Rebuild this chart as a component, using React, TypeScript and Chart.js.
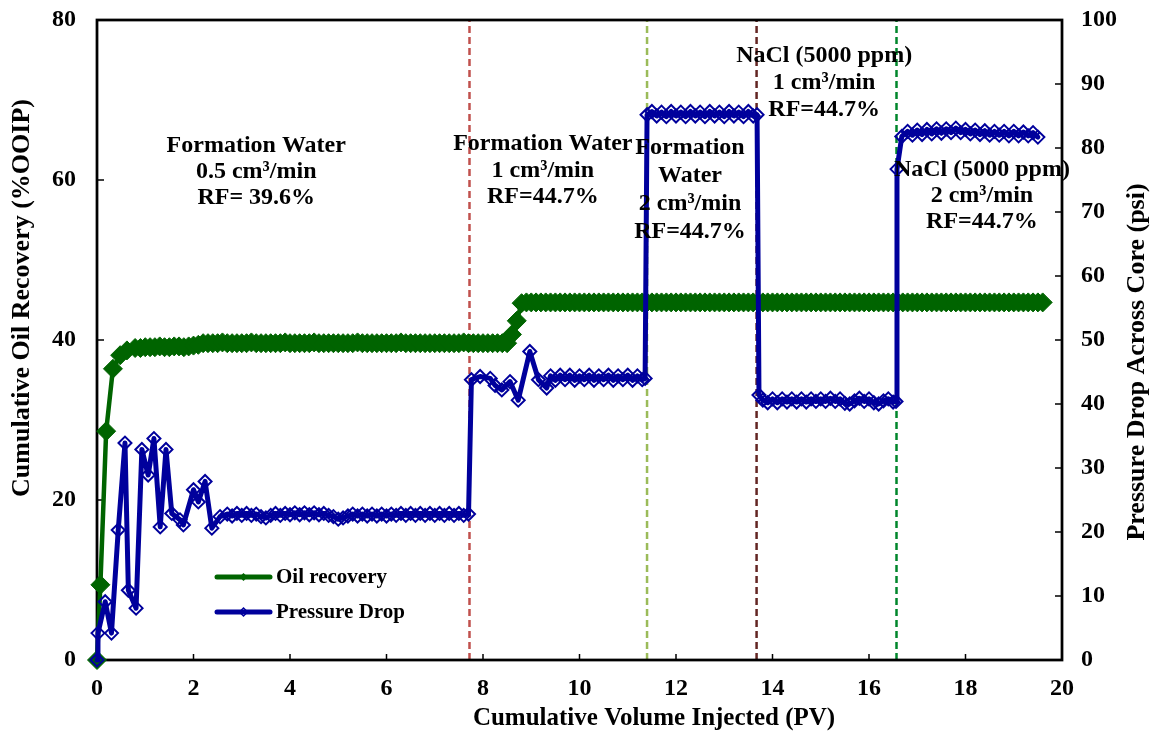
import React, { useEffect, useRef } from 'react';
import { Chart, registerables } from 'chart.js';

Chart.register(...registerables);

const SERIF = "'Liberation Serif', 'Times New Roman', Times, serif";
const GREEN = '#006400';
const BLUE = '#00009C';

// Cumulative oil recovery (%OOIP) against injected pore volumes
const oilPV = [
  0, 0.07, 0.19, 0.33, 0.48, 0.62, 0.79,
  0.9,
  1.0, 1.1, 1.2, 1.3, 1.4, 1.5, 1.6, 1.7, 1.8, 1.9,
  2.0, 2.1, 2.2, 2.3, 2.4, 2.5, 2.6, 2.7, 2.8, 2.9,
  3.0, 3.1, 3.2, 3.3, 3.4, 3.5, 3.6, 3.7, 3.8, 3.9,
  4.0, 4.1, 4.2, 4.3, 4.4, 4.5, 4.6, 4.7, 4.8, 4.9,
  5.0, 5.1, 5.2, 5.3, 5.4, 5.5, 5.6, 5.7, 5.8, 5.9,
  6.0, 6.1, 6.2, 6.3, 6.4, 6.5, 6.6, 6.7, 6.8, 6.9,
  7.0, 7.1, 7.2, 7.3, 7.4, 7.5, 7.6, 7.7, 7.8, 7.9,
  8.0, 8.1, 8.2, 8.3, 8.4, 8.5, 8.6, 8.7, 8.8, 8.9,
  9.0, 9.1, 9.2, 9.3, 9.4, 9.5, 9.6, 9.7, 9.8, 9.9,
  10.0, 10.1, 10.2, 10.3, 10.4, 10.5, 10.6, 10.7, 10.8, 10.9,
  11.0, 11.1, 11.2, 11.3, 11.4, 11.5, 11.6, 11.7, 11.8, 11.9,
  12.0, 12.1, 12.2, 12.3, 12.4, 12.5, 12.6, 12.7, 12.8, 12.9,
  13.0, 13.1, 13.2, 13.3, 13.4, 13.5, 13.6, 13.7, 13.8, 13.9,
  14.0, 14.1, 14.2, 14.3, 14.4, 14.5, 14.6, 14.7, 14.8, 14.9,
  15.0, 15.1, 15.2, 15.3, 15.4, 15.5, 15.6, 15.7, 15.8, 15.9,
  16.0, 16.1, 16.2, 16.3, 16.4, 16.5, 16.6, 16.7, 16.8, 16.9,
  17.0, 17.1, 17.2, 17.3, 17.4, 17.5, 17.6, 17.7, 17.8, 17.9,
  18.0, 18.1, 18.2, 18.3, 18.4, 18.5, 18.6, 18.7, 18.8, 18.9,
  19.0, 19.1, 19.2, 19.3, 19.4, 19.5, 19.6,
];
const oilRecovery = [
  0, 9.4, 28.6, 36.4, 38.1, 38.7, 39.0,
  39.0,
  39.1, 39.1, 39.1, 39.2, 39.1, 39.1, 39.2, 39.2, 39.1, 39.2,
  39.3, 39.4, 39.6, 39.6, 39.6, 39.6, 39.7, 39.6, 39.6, 39.6,
  39.6, 39.6, 39.7, 39.6, 39.6, 39.6, 39.6, 39.6, 39.6, 39.7,
  39.6, 39.6, 39.6, 39.6, 39.6, 39.7, 39.6, 39.6, 39.6, 39.6,
  39.6, 39.6, 39.6, 39.6, 39.7, 39.6, 39.6, 39.6, 39.6, 39.6,
  39.6, 39.6, 39.6, 39.7, 39.6, 39.6, 39.6, 39.6, 39.6, 39.6,
  39.6, 39.6, 39.6, 39.6, 39.6, 39.6, 39.7, 39.6, 39.6, 39.6,
  39.6, 39.6, 39.6, 39.6, 39.6, 39.6, 40.7, 42.4, 44.6, 44.7,
  44.7, 44.7, 44.7, 44.7, 44.7, 44.7, 44.7, 44.7, 44.7, 44.7,
  44.7, 44.7, 44.7, 44.7, 44.7, 44.7, 44.7, 44.7, 44.7, 44.7,
  44.7, 44.7, 44.7, 44.7, 44.7, 44.7, 44.7, 44.7, 44.7, 44.7,
  44.7, 44.7, 44.7, 44.7, 44.7, 44.7, 44.7, 44.7, 44.7, 44.7,
  44.7, 44.7, 44.7, 44.7, 44.7, 44.7, 44.7, 44.7, 44.7, 44.7,
  44.7, 44.7, 44.7, 44.7, 44.7, 44.7, 44.7, 44.7, 44.7, 44.7,
  44.7, 44.7, 44.7, 44.7, 44.7, 44.7, 44.7, 44.7, 44.7, 44.7,
  44.7, 44.7, 44.7, 44.7, 44.7, 44.7, 44.7, 44.7, 44.7, 44.7,
  44.7, 44.7, 44.7, 44.7, 44.7, 44.7, 44.7, 44.7, 44.7, 44.7,
  44.7, 44.7, 44.7, 44.7, 44.7, 44.7, 44.7, 44.7, 44.7, 44.7,
  44.7, 44.7, 44.7, 44.7, 44.7, 44.7, 44.7,
];

// Pressure drop across the core (psi) against injected pore volumes
const dpPV = [
  0, 0.02, 0.17, 0.3, 0.44, 0.58, 0.65, 0.81, 0.93, 1.06,
  1.18, 1.31, 1.43, 1.55, 1.72, 1.79, 2.0, 2.1, 2.24, 2.38, 2.55,
  2.7, 2.8, 2.9,
  3.0, 3.1, 3.2, 3.3, 3.4, 3.5, 3.6, 3.7, 3.8, 3.9,
  4.0, 4.1, 4.2, 4.3, 4.4, 4.5, 4.6, 4.7, 4.8, 4.9,
  5.0, 5.1, 5.2, 5.3, 5.4, 5.5, 5.6, 5.7, 5.8, 5.9,
  6.0, 6.1, 6.2, 6.3, 6.4, 6.5, 6.6, 6.7, 6.8, 6.9,
  7.0, 7.1, 7.2, 7.3, 7.4, 7.5, 7.6, 7.7,
  7.76, 7.94, 8.15, 8.25, 8.39, 8.56, 8.73, 8.97, 9.15, 9.32,
  9.4, 9.5, 9.6, 9.7, 9.8, 9.9,
  10.0, 10.1, 10.2, 10.3, 10.4, 10.5, 10.6, 10.7, 10.8, 10.9,
  11.0, 11.1, 11.2, 11.3, 11.36,
  11.4, 11.5, 11.6, 11.7, 11.8, 11.9,
  12.0, 12.1, 12.2, 12.3, 12.4, 12.5, 12.6, 12.7, 12.8, 12.9,
  13.0, 13.1, 13.2, 13.3, 13.4, 13.5, 13.6, 13.68,
  13.72, 13.8, 13.9,
  14.0, 14.1, 14.2, 14.3, 14.4, 14.5, 14.6, 14.7, 14.8, 14.9,
  15.0, 15.1, 15.2, 15.3, 15.4, 15.5, 15.6, 15.7, 15.8, 15.9,
  16.0, 16.1, 16.2, 16.3, 16.4, 16.5, 16.56,
  16.58, 16.68, 16.8, 16.9,
  17.0, 17.1, 17.2, 17.3, 17.4, 17.5, 17.6, 17.7, 17.8, 17.9,
  18.0, 18.1, 18.2, 18.3, 18.4, 18.5, 18.6, 18.7, 18.8, 18.9,
  19.0, 19.1, 19.2, 19.3, 19.4, 19.5,
];
const pressureDrop = [
  0, 4.2, 9.1, 4.2, 20.3, 33.9, 10.9, 8.1, 32.9, 28.9,
  34.6, 20.8, 32.9, 22.9, 21.9, 21.1, 26.6, 24.7, 27.9, 20.6, 22.4,
  22.8, 22.5, 22.9,
  22.6, 22.9, 22.6, 22.8, 22.4, 22.2, 22.6, 22.9, 22.6, 22.9,
  22.7, 23.0, 22.7, 23.0, 22.7, 23.0, 22.7, 22.9, 22.6, 22.4,
  22.0, 22.2, 22.5, 22.8, 22.5, 22.8, 22.5, 22.8, 22.5, 22.8,
  22.5, 22.8, 22.6, 22.9, 22.6, 22.9, 22.6, 22.9, 22.6, 22.9,
  22.6, 22.9, 22.6, 22.9, 22.6, 22.9, 22.6, 22.8,
  43.8, 44.3, 44.0, 42.9, 42.2, 43.5, 40.6, 48.2, 43.8, 42.5,
  44.4, 43.7, 44.5, 43.8, 44.5, 43.7,
  44.4, 43.8, 44.5, 43.7, 44.4, 43.8, 44.5, 43.7, 44.4, 43.8,
  44.5, 43.7, 44.4, 43.8, 44.0,
  85.2, 85.7, 85.0, 85.6, 84.9, 85.7,
  85.0, 85.6, 84.9, 85.7, 85.0, 85.6, 84.9, 85.7, 85.0, 85.6,
  84.9, 85.7, 85.0, 85.6, 84.9, 85.7, 85.0, 85.2,
  41.4, 40.6, 40.2,
  40.8, 40.2, 40.8, 40.3, 40.8, 40.3, 40.8, 40.3, 40.8, 40.4,
  40.8, 40.4, 40.9, 40.4, 40.8, 40.1, 40.0, 40.5, 40.9, 40.4,
  40.8, 40.2, 40.0, 40.5, 40.8, 40.3, 40.4,
  76.7, 81.8, 82.6, 82.0,
  82.8, 82.1, 82.9, 82.2, 83.0, 82.3, 83.0, 82.4, 83.1, 82.4,
  82.9, 82.2, 82.8, 82.1, 82.7, 82.0, 82.6, 82.0, 82.6, 81.9,
  82.6, 81.9, 82.5, 81.9, 82.4, 81.7,
];

// Injection stage changes (PV) and the dashed marker colour for each
const stageBoundaries = [7.72, 11.4, 13.67, 16.57];
const stageColors = ['#C0504D', '#9BBB59', '#632523', '#00862B'];

// Stage descriptions: anchor in data units (PV, %OOIP), line gap in px
const stageNotes = [
  { pv: 3.3, rec: 64.25, gap: 26, lines: ['Formation Water', '0.5 cm³/min', 'RF= 39.6%'] },
  { pv: 9.24, rec: 64.5, gap: 26.5, lines: ['Formation Water', '1 cm³/min', 'RF=44.7%'] },
  { pv: 12.29, rec: 64.0, gap: 28, lines: ['Formation', 'Water', '2 cm³/min', 'RF=44.7%'] },
  { pv: 15.07, rec: 75.5, gap: 27, lines: ['NaCl (5000 ppm)', '1 cm³/min', 'RF=44.7%'] },
  { pv: 18.34, rec: 61.25, gap: 26, lines: ['NaCl (5000 ppm)', '2 cm³/min', 'RF=44.7%'] },
];

const xTitle = 'Cumulative Volume Injected (PV)';
const yTitle = 'Cumulative Oil Recovery (%OOIP)';
const y2Title = 'Pressure Drop Across Core (psi)';

const xTickValues = [0, 2, 4, 6, 8, 10, 12, 14, 16, 18, 20];
const recoveryTicks = [0, 20, 40, 60, 80];
const pressureTicks = [0, 10, 20, 30, 40, 50, 60, 70, 80, 90, 100];

function diamond(ctx: CanvasRenderingContext2D, x: number, y: number, r: number) {
  ctx.beginPath();
  ctx.moveTo(x, y - r);
  ctx.lineTo(x + r, y);
  ctx.lineTo(x, y + r);
  ctx.lineTo(x - r, y);
  ctx.closePath();
}

const decorPlugin = {
  id: 'decor',
  beforeDatasetsDraw(chart: any) {
    const { ctx, chartArea: a, scales } = chart;
    ctx.save();
    // dashed stage boundaries
    ctx.lineWidth = 2.5;
    ctx.setLineDash([7, 4]);
    stageBoundaries.forEach((pv, i) => {
      const x = scales.x.getPixelForValue(pv);
      ctx.strokeStyle = stageColors[i];
      ctx.beginPath();
      ctx.moveTo(x, a.bottom);
      ctx.lineTo(x, a.top);
      ctx.stroke();
    });
    ctx.setLineDash([]);
    // frame
    ctx.strokeStyle = '#000';
    ctx.lineWidth = 2.75;
    ctx.strokeRect(a.left, a.top, a.right - a.left, a.bottom - a.top);
    // inward tick marks
    ctx.lineWidth = 1.5;
    ctx.beginPath();
    xTickValues.forEach((v) => {
      const x = scales.x.getPixelForValue(v);
      ctx.moveTo(x, a.bottom);
      ctx.lineTo(x, a.bottom - 6);
    });
    recoveryTicks.forEach((v) => {
      const y = scales.y.getPixelForValue(v);
      ctx.moveTo(a.left, y);
      ctx.lineTo(a.left + 7, y);
    });
    pressureTicks.forEach((v) => {
      const y = scales.y2.getPixelForValue(v);
      ctx.moveTo(a.right, y);
      ctx.lineTo(a.right - 7, y);
    });
    ctx.stroke();
    ctx.restore();
  },
  afterDatasetsDraw(chart: any) {
    const { ctx, scales } = chart;
    ctx.save();
    ctx.fillStyle = '#000';
    ctx.textAlign = 'center';
    ctx.textBaseline = 'middle';
    ctx.font = `bold 24px ${SERIF}`;
    stageNotes.forEach((n) => {
      const x = scales.x.getPixelForValue(n.pv);
      const y0 = scales.y.getPixelForValue(n.rec);
      n.lines.forEach((t, i) => ctx.fillText(t, x, y0 + i * n.gap));
    });

    // axis titles
    ctx.font = `bold 25px ${SERIF}`;
    ctx.fillText(xTitle, 654, 719);
    ctx.font = `bold 26px ${SERIF}`;
    ctx.save();
    ctx.translate(22, 298);
    ctx.rotate(-Math.PI / 2);
    ctx.fillText(yTitle, 0, 0);
    ctx.restore();
    ctx.save();
    ctx.translate(1137, 362);
    ctx.rotate(-Math.PI / 2);
    ctx.fillText(y2Title, 0, 0);
    ctx.restore();

    // legend inside the plot
    const items = chart.data.datasets.map((d: any) => ({
      label: d.label,
      color: d.borderColor,
      filled: d.pointBackgroundColor !== 'rgba(0,0,0,0)',
    }));
    const legendRows = [577, 612];
    ctx.textAlign = 'left';
    ctx.font = `bold 21px ${SERIF}`;
    items.forEach((it: any, i: number) => {
      const y = legendRows[i];
      ctx.strokeStyle = it.color;
      ctx.lineWidth = 5;
      ctx.lineCap = 'round';
      ctx.beginPath();
      ctx.moveTo(217, y);
      ctx.lineTo(270, y);
      ctx.stroke();
      diamond(ctx, 243.5, y, 4);
      if (it.filled) {
        ctx.fillStyle = it.color;
        ctx.fill();
      } else {
        ctx.lineWidth = 1.5;
        ctx.stroke();
      }
      ctx.fillStyle = '#000';
      ctx.fillText(it.label, 276, y + 1);
    });
    ctx.restore();
  },
};

// vertical axes: keep the plot box fixed, no extra label padding above/below
const fixVertical = (width: number) => (s: any) => {
  s.width = width;
  s.paddingTop = 0;
  s.paddingBottom = 0;
};

export default function App() {
  const canvasRef = useRef<HTMLCanvasElement | null>(null);

  useEffect(() => {
    document.body.style.margin = '0';
    const canvas = canvasRef.current;
    if (!canvas) return;

    const tickFont = { family: SERIF, size: 24, weight: 'bold' as const, lineHeight: 1 };

    const chart = new Chart(canvas, {
      type: 'line',
      data: {
        datasets: [
          {
            label: 'Oil recovery',
            data: oilPV.map((pv, i) => ({ x: pv, y: oilRecovery[i] })),
            yAxisID: 'y',
            borderColor: GREEN,
            borderWidth: 4.5,
            borderJoinStyle: 'round',
            borderCapStyle: 'round',
            pointStyle: 'rectRot',
            pointRadius: 9.5,
            pointBackgroundColor: GREEN,
            pointBorderColor: GREEN,
            pointBorderWidth: 1,
            tension: 0,
            clip: false,
            order: 2,
          },
          {
            label: 'Pressure Drop',
            data: dpPV.map((pv, i) => ({ x: pv, y: pressureDrop[i] })),
            yAxisID: 'y2',
            borderColor: BLUE,
            borderWidth: 5,
            borderJoinStyle: 'round',
            borderCapStyle: 'round',
            pointStyle: 'rectRot',
            pointRadius: 6.5,
            pointBackgroundColor: 'rgba(0,0,0,0)',
            pointBorderColor: BLUE,
            pointBorderWidth: 2,
            tension: 0,
            clip: false,
            order: 1,
          },
        ],
      },
      options: {
        responsive: false,
        animation: false,
        devicePixelRatio: 1,
        events: [],
        layout: { padding: { top: 20, left: 0, right: 0, bottom: 0 } },
        plugins: { legend: { display: false }, tooltip: { enabled: false } },
        scales: {
          x: {
            type: 'linear',
            position: 'bottom',
            min: 0,
            max: 20,
            afterBuildTicks: (s: any) => { s.ticks = xTickValues.map((v) => ({ value: v })); },
            ticks: { font: tickFont, color: '#000', padding: 17, maxRotation: 0, autoSkip: false },
            grid: { display: false, drawTicks: false },
            border: { display: false },
            afterFit: (s: any) => { s.height = 85; },
          },
          y: {
            type: 'linear',
            position: 'left',
            min: 0,
            max: 80,
            afterBuildTicks: (s: any) => { s.ticks = recoveryTicks.map((v) => ({ value: v })); },
            ticks: { font: tickFont, color: '#000', padding: 21 },
            grid: { display: false, drawTicks: false },
            border: { display: false },
            afterFit: fixVertical(97),
          },
          y2: {
            type: 'linear',
            position: 'right',
            min: 0,
            max: 100,
            afterBuildTicks: (s: any) => { s.ticks = pressureTicks.map((v) => ({ value: v })); },
            ticks: { font: tickFont, color: '#000', padding: 19 },
            grid: { display: false, drawTicks: false },
            border: { display: false },
            afterFit: fixVertical(91),
          },
        },
      },
      plugins: [decorPlugin],
    } as any);

    return () => chart.destroy();
  }, []);

  return (
    <div style={{ width: 1153, height: 745, background: '#fff' }}>
      <canvas ref={canvasRef} width={1153} height={745} style={{ display: 'block' }} />
    </div>
  );
}
